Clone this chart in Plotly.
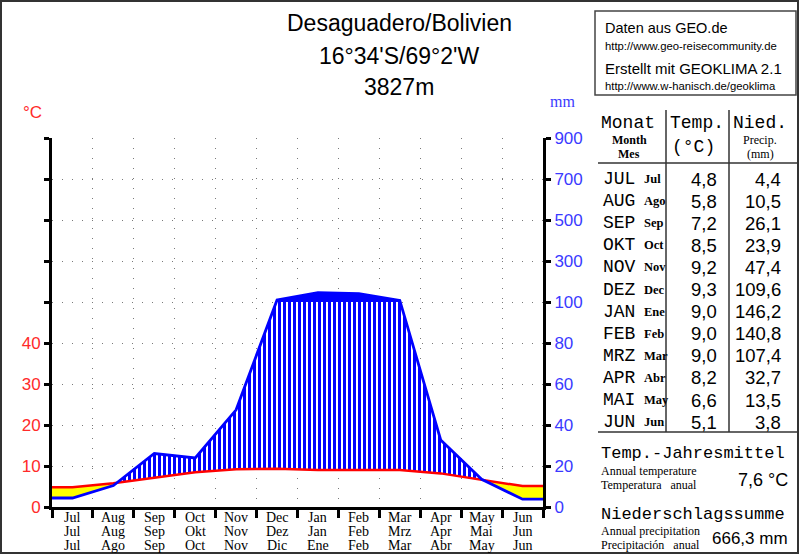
import numpy as np
import plotly.graph_objects as go

# ---------------- data ----------------
months_en = ["Jul", "Aug", "Sep", "Oct", "Nov", "Dec", "Jan", "Feb", "Mar", "Apr", "May", "Jun"]
months_de = ["Jul", "Aug", "Sep", "Okt", "Nov", "Dez", "Jan", "Feb", "Mrz", "Apr", "Mai", "Jun"]
months_es = ["Jul", "Ago", "Sep", "Oct", "Nov", "Dic", "Ene", "Feb", "Mar", "Abr", "May", "Jun"]
table_de = ["JUL", "AUG", "SEP", "OKT", "NOV", "DEZ", "JAN", "FEB", "MRZ", "APR", "MAI", "JUN"]
table_es = ["Jul", "Ago", "Sep", "Oct", "Nov", "Dec", "Ene", "Feb", "Mar", "Abr", "May", "Jun"]
temp = [4.8, 5.8, 7.2, 8.5, 9.2, 9.3, 9.0, 9.0, 9.0, 8.2, 6.6, 5.1]
precip = [4.4, 10.5, 26.1, 23.9, 47.4, 109.6, 146.2, 140.8, 107.4, 32.7, 13.5, 3.8]
temp_ticks = [0, 10, 20, 30, 40]
precip_ticks = [0, 20, 40, 60, 80, 100, 300, 500, 700, 900]
annual_temp = "7,6"
annual_precip = "666,3"
title_lines = ["Desaguadero/Bolivien", "16°34'S/69°2'W", "3827m"]

SANS = "Liberation Sans, Arial, sans-serif"
SERIF = "Liberation Serif, Times New Roman, serif"
MONO = "Liberation Mono, Courier New, monospace"
RED = "#ff2a2a"
BLUE = "#3a3aff"

# ---------------- geometry helpers ----------------
W, H = 800, 555
L, R, T, B = 52, 543, 138, 507


def px(x):
    return (x - L) / (R - L)


def py(y):
    return (B - y) / (B - T)


def pscale(p):
    p = np.asarray(p, dtype=float)
    return np.where(p <= 100, p / 2.0, 50 + (p - 100) / 20.0)


def fmt(v):
    return f"{v:.1f}".replace(".", ",")


# extended series (flat to the borders of the year)
xs = np.array([0.0] + [i + 0.5 for i in range(12)] + [12.0])
T_ext = np.array([temp[0]] + temp + [temp[-1]], dtype=float)
P_ext = pscale([precip[0]] + precip + [precip[-1]])

# add crossing points so fills follow the lines exactly
xg = list(xs)
for i in range(len(xs) - 1):
    for a0, a1 in [(P_ext[i] - T_ext[i], P_ext[i + 1] - T_ext[i + 1]),
                   (P_ext[i] - 50, P_ext[i + 1] - 50)]:
        if a0 * a1 < 0:
            f = a0 / (a0 - a1)
            xg.append(xs[i] + f * (xs[i + 1] - xs[i]))
xg = np.array(sorted(set(xg)))
Tg = np.interp(xg, xs, T_ext)
Pg = np.interp(xg, xs, P_ext)

fig = go.Figure()
nol = dict(width=0)
# humid (hatched) area
fig.add_trace(go.Scatter(x=xg, y=Tg, mode="lines", line=nol, hoverinfo="skip", showlegend=False))
fig.add_trace(go.Scatter(x=xg, y=np.minimum(np.maximum(Pg, Tg), 50), mode="lines", line=nol,
                         fill="tonexty", fillcolor="white",
                         fillpattern=dict(shape="|", size=5, solidity=0.6, fgcolor="#0000ff",
                                          fgopacity=1, bgcolor="white"),
                         hoverinfo="skip", showlegend=False))
# arid (yellow) area
fig.add_trace(go.Scatter(x=xg, y=Pg, mode="lines", line=nol, hoverinfo="skip", showlegend=False))
fig.add_trace(go.Scatter(x=xg, y=np.maximum(Tg, Pg), mode="lines", line=nol, fill="tonexty",
                         fillcolor="#ffff00", hoverinfo="skip", showlegend=False))
# perhumid (> 100 mm) solid area
fig.add_trace(go.Scatter(x=xg, y=np.minimum(Pg, 50), mode="lines", line=nol, hoverinfo="skip",
                         showlegend=False))
fig.add_trace(go.Scatter(x=xg, y=Pg, mode="lines", line=nol, fill="tonexty", fillcolor="#0000ff",
                         hoverinfo="skip", showlegend=False))
# lines
fig.add_trace(go.Scatter(x=xs, y=P_ext, mode="lines", line=dict(color="#0000ff", width=2.8),
                         yaxis="y2", showlegend=False))
fig.add_trace(go.Scatter(x=xs, y=T_ext, mode="lines", line=dict(color="#ff0000", width=2.5),
                         showlegend=False))

grid = dict(showgrid=True, gridcolor="#7a7a7a", gridwidth=1, griddash="1px,9px")
yvals = list(range(0, 100, 10))
fig.update_layout(
    width=W, height=H, margin=dict(l=L, r=W - R, t=T, b=H - B),
    paper_bgcolor="white", plot_bgcolor="white", showlegend=False,
    xaxis=dict(range=[0, 12], tickvals=list(range(13)), showticklabels=False, ticks="outside",
               ticklen=8, tickwidth=3, tickcolor="black", showline=True, linecolor="black",
               linewidth=3, zeroline=False, fixedrange=True, **grid),
    yaxis=dict(range=[0, 90], tickvals=yvals,
               ticktext=[str(v) if v in temp_ticks else "" for v in yvals],
               tickfont=dict(family=SANS, size=17, color=RED), ticks="outside", ticklen=5,
               tickwidth=3, tickcolor="black", showline=True, linecolor="black", linewidth=3,
               zeroline=False, fixedrange=True, **grid),
    yaxis2=dict(range=[0, 90], overlaying="y", side="right", tickvals=list(pscale(precip_ticks)),
                ticktext=[str(v) for v in precip_ticks],
                tickfont=dict(family=SANS, size=17, color=BLUE), ticks="outside", ticklen=5,
                tickwidth=3, tickcolor="black", showline=True, linecolor="black", linewidth=3,
                showgrid=False, zeroline=False, fixedrange=True),
)


def txt(x, y, s, size, color="black", family=SANS, xanchor="left", xref="paper"):
    fig.add_annotation(x=px(x) if xref == "paper" else x, y=py(y), xref=xref, yref="paper",
                       text=s, showarrow=False, xanchor=xanchor, yanchor="middle",
                       font=dict(family=family, size=size, color=color), borderpad=0)


def line(x0, y0, x1, y1, w=1.5, color="#333333"):
    fig.add_shape(type="line", xref="paper", yref="paper", x0=px(x0), y0=py(y0), x1=px(x1),
                  y1=py(y1), line=dict(color=color, width=w))


# title
for s, y in zip(title_lines, [23, 56, 87]):
    txt(399, y, s, 23, xanchor="center")

# axis unit labels
txt(32, 113, "°C", 17, RED, SANS, "center")
txt(562, 101, "mm", 16, BLUE, SERIF, "center")

# month labels below x axis
for i in range(12):
    for row, y in zip([months_en, months_de, months_es], [517, 531, 545]):
        txt(i + 0.5, y, row[i], 14, "black", SERIF, "center", xref="x")

# source box
fig.add_shape(type="rect", xref="paper", yref="paper", x0=px(595), y0=py(11), x1=px(796),
              y1=py(95), line=dict(color="#444444", width=1.5))
txt(604, 28, "Daten aus GEO.de", 14.5)
txt(604, 46, "http://www.geo-reisecommunity.de", 11.3)
txt(604, 68, "Erstellt mit GEOKLIMA 2.1", 15)
txt(604, 86, "http://www.w-hanisch.de/geoklima", 11.3)

# table
line(666, 110, 666, 432)
line(729, 110, 729, 432)
line(598, 163, 797, 163)
line(598, 432, 797, 432)
txt(600, 123, "Monat", 18, family=MONO)
txt(629, 140, "<b>Month</b>", 12, family=SERIF, xanchor="center")
txt(629, 154, "<b>Mes</b>", 12, family=SERIF, xanchor="center")
txt(697, 123, "Temp.", 18, family=MONO, xanchor="center")
txt(693, 147, "(°C)", 18, family=MONO, xanchor="center")
txt(760, 123, "Nied.", 18, family=MONO, xanchor="center")
txt(760, 140, "Precip.", 12, family=SERIF, xanchor="center")
txt(760, 154, "(mm)", 12, family=SERIF, xanchor="center")
for i in range(12):
    y = 179 + 22.1 * i
    txt(602, y, table_de[i], 18, family=MONO)
    txt(643, y, "<b>" + table_es[i] + "</b>", 12.5, family=SERIF)
    txt(718, y, fmt(temp[i]), 18.5, xanchor="right")
    txt(782, y, fmt(precip[i]), 18.5, xanchor="right")

# annual summaries
txt(600, 453, "Temp.-Jahresmittel", 17, family=MONO)
txt(600, 471, "Annual temperature", 12, family=SERIF)
txt(600, 485, "Temperatura&nbsp;&nbsp;&nbsp;anual", 12, family=SERIF)
txt(789, 480, annual_temp + " °C", 18, xanchor="right")
txt(600, 514, "Niederschlagssumme", 17, family=MONO)
txt(600, 531, "Annual precipitation", 12, family=SERIF)
txt(600, 545, "Precipitación&nbsp;&nbsp;&nbsp;anual", 12, family=SERIF)
txt(789, 538, annual_precip + " mm", 17, xanchor="right")

# outer frame
fig.add_shape(type="rect", xref="paper", yref="paper", x0=px(1), y0=py(1), x1=px(798),
              y1=py(553), line=dict(color="#333333", width=2))

fig.write_html("out.html", config={"displayModeBar": False},
               post_script="document.body.style.margin='0';document.body.style.overflow='hidden';")
